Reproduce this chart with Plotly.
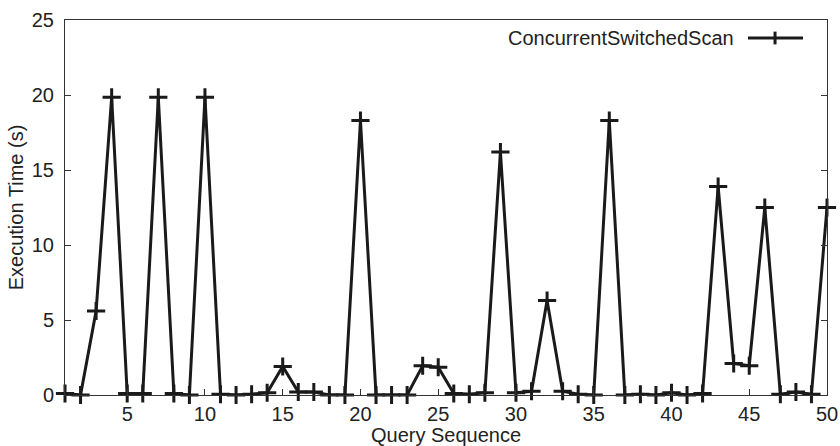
import plotly.graph_objects as go

series_name = "ConcurrentSwitchedScan"
x_title = "Query Sequence"
y_title = "Execution Time (s)"
query_seq = list(range(1, 51))
exec_time = [0.1, 0.0, 5.6, 19.85, 0.1, 0.1, 19.85, 0.1, 0.0, 19.85,
             0.05, 0.0, 0.05, 0.15, 1.9, 0.2, 0.2, 0.0, 0.0, 18.3,
             0.0, 0.0, 0.0, 1.95, 1.85, 0.1, 0.05, 0.15, 16.2, 0.15,
             0.25, 6.3, 0.25, 0.05, 0.0, 18.3, 0.0, 0.05, 0.0, 0.15,
             0.0, 0.1, 13.9, 2.1, 1.95, 12.5, 0.05, 0.2, 0.05, 12.5]
x_ticks = [5, 10, 15, 20, 25, 30, 35, 40, 45, 50]
y_ticks = [0, 5, 10, 15, 20, 25]

LINE = "#1a1a1a"
AX = "#333333"
FONT = dict(family="Liberation Sans, Arial, sans-serif", size=20, color="#222222")

fig = go.Figure()
fig.add_trace(go.Scatter(
    x=query_seq, y=exec_time, mode="lines+markers", name=series_name,
    line=dict(color=LINE, width=3),
    marker=dict(symbol="cross-thin", size=13, line=dict(color=LINE, width=3)),
    showlegend=False, cliponaxis=False,
))

# legend drawn manually: text on the left, sample on the right
LY = 0.952
fig.add_annotation(xref="paper", yref="paper", x=0.8806, y=LY, xanchor="right",
                   yanchor="middle", text=series_name, showarrow=False, font=FONT)
fig.add_shape(type="line", xref="paper", yref="paper", x0=0.8963, x1=0.9685,
              y0=LY, y1=LY, line=dict(color=LINE, width=3))
fig.add_shape(type="line", xref="paper", yref="paper", x0=0.9318, x1=0.9318,
              y0=LY - 0.017, y1=LY + 0.017, line=dict(color=LINE, width=3))

# x axis title placed at the bottom edge of the page
fig.add_annotation(xref="paper", yref="paper", x=0.5, y=-0.136, xanchor="center",
                   yanchor="bottom", yshift=-2, text=x_title, showarrow=False,
                   font=FONT)

fig.update_layout(
    width=840, height=446,
    margin=dict(l=65, r=13, t=20, b=51),
    paper_bgcolor="white", plot_bgcolor="white",
    font=FONT,
)
fig.update_xaxes(
    range=[1, 50], tickvals=x_ticks, ticks="inside", ticklen=6, tickcolor=AX,
    showline=True, linecolor=AX, linewidth=1, mirror=True, showgrid=False,
    zeroline=False, ticklabelstandoff=1, automargin=False,
)
fig.update_yaxes(
    range=[0, 25], tickvals=y_ticks, ticks="inside", ticklen=6, tickcolor=AX,
    showline=True, linecolor=AX, linewidth=1, mirror="ticks", showgrid=False,
    zeroline=False, ticklabelstandoff=6, automargin=False,
    title=dict(text=y_title, standoff=2, font=FONT),
)

fig.write_html("out.html")
